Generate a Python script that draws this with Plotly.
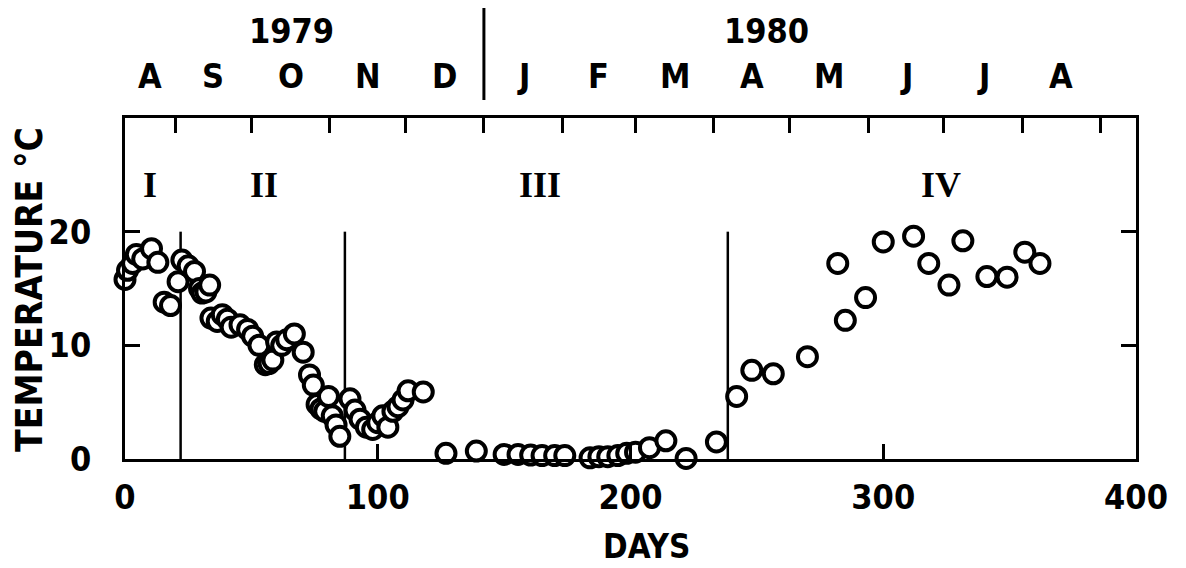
import numpy as np
import plotly.graph_objects as go

# ---------------- data ----------------
days = [0, 1, 3, 4.5, 7, 10.5, 13, 15.5, 18, 21, 22.5, 25, 27.5, 29.5, 30.5, 32, 33.5,
        34, 36.5, 38.5, 40.5, 42, 45.5, 48.5, 50.5, 53, 55.5, 57, 58.5, 60, 62, 64, 67,
        70.5, 73, 74.5, 76, 77.5, 79, 80.5, 82, 83.5, 85, 89, 91, 93, 95.5, 98, 100,
        102, 104, 106, 108, 110, 112, 118,
        127, 132.5, 139, 150, 155.5, 160.5, 165, 170, 174, 184, 187.5, 191, 195, 198.5,
        202, 207.5, 214, 222, 234,
        242, 248, 256.5, 270, 282, 285, 293, 300, 312, 318, 326, 331.5, 341, 349, 356, 362]
temps = [15.8, 16.6, 17.2, 18.0, 17.6, 18.5, 17.3, 13.8, 13.5, 15.6, 17.5, 17.0, 16.5, 15.0, 14.6, 14.7, 15.3,
         12.4, 12.1, 12.7, 12.3, 11.6, 11.8, 11.4, 10.8, 10.0, 8.3, 8.4, 8.7, 10.3, 10.0, 10.5, 11.0,
         9.4, 7.4, 6.5, 4.8, 4.4, 4.2, 5.5, 3.8, 3.0, 2.0, 5.3, 4.3, 3.5, 2.8, 2.6, 3.2,
         3.8, 2.8, 4.2, 4.6, 5.2, 6.0, 5.9,
         0.5, -0.1, 0.7, 0.4, 0.4, 0.35, 0.3, 0.3, 0.3, 0.1, 0.2, 0.2, 0.3, 0.5,
         0.6, 1.0, 1.6, 0.05, 1.5,
         5.5, 7.8, 7.5, 9.0, 17.2, 12.2, 14.2, 19.1, 19.6, 17.2, 15.3, 19.2, 16.05, 16.0, 18.2, 17.2]

phase_bounds = [22, 87, 238.5]            # vertical phase separators (days)
phase_top = 20                             # separators reach up to 20 degC
phase_labels = ["I", "II", "III", "IV"]
phase_label_days = [10, 55, 164, 323]
phase_label_temp = 24.1

month_starts = [-11, 20, 50, 81, 111, 142, 173, 202, 233, 263, 294, 324, 355, 386]
month_letters = ["A", "S", "O", "N", "D", "J", "F", "M", "A", "M", "J", "J", "A"]
years = ["1979", "1980"]
year_label_days = [66, 254]
new_year_day = 142

x_ticks = [0, 100, 200, 300, 400]
y_ticks = [0, 10, 20]

# ---------------- layout geometry ----------------
W, H = 1186, 568
L, R, T, B = 125, 50, 118, 109
plot_h = H - T - B

def py(pix):
    """pixel row -> paper y"""
    return (H - B - pix) / plot_h

FONT = "DejaVu Sans Condensed, Liberation Sans Narrow, sans-serif"
SERIF = "Liberation Serif, DejaVu Serif, serif"

fig = go.Figure()
fig.add_trace(go.Scatter(
    x=days, y=temps, mode="markers", cliponaxis=False,
    marker=dict(symbol="circle", size=19, color="white",
                line=dict(color="black", width=4)),
    showlegend=False, hoverinfo="x+y"))

# invisible trace to hold the top month axis
top_ticks = [m for m in month_starts if 0 < m < 400]
fig.add_trace(go.Scatter(x=top_ticks, y=[None] * len(top_ticks), xaxis="x2",
                         mode="markers", showlegend=False, hoverinfo="skip"))

shapes = []
for b in phase_bounds:
    shapes.append(dict(type="line", xref="x", yref="y", x0=b, x1=b, y0=0, y1=phase_top,
                       line=dict(color="black", width=2.5), layer="below"))
shapes.append(dict(type="line", xref="x", yref="paper", x0=new_year_day, x1=new_year_day,
                   y0=py(100), y1=py(8), line=dict(color="black", width=3)))

ann = []
for i, m in enumerate(month_letters):
    a, b = max(month_starts[i], 0), min(month_starts[i + 1], 400)
    ann.append(dict(x=(a + b) / 2, y=py(76), xref="x", yref="paper", text=m,
                    showarrow=False, xanchor="center", yanchor="middle",
                    font=dict(family=FONT, size=34, color="black", weight="bold")))
for yl, d in zip(years, year_label_days):
    ann.append(dict(x=d, y=py(31), xref="x", yref="paper", text=yl,
                    showarrow=False, xanchor="center", yanchor="middle",
                    font=dict(family=FONT, size=34, color="black", weight="bold")))
for t, d in zip(phase_labels, phase_label_days):
    ann.append(dict(x=d, y=phase_label_temp, xref="x", yref="y", text=t,
                    showarrow=False, xanchor="center", yanchor="middle",
                    font=dict(family=SERIF, size=36, color="black", weight="bold")))
ann.append(dict(x=(646 - L) / (W - L - R), y=py(546), xref="paper", yref="paper", text="DAYS",
                showarrow=False, xanchor="center", yanchor="middle",
                font=dict(family=FONT, size=33, color="black", weight="bold")))
ann.append(dict(x=(29 - L) / (W - L - R), y=py(290), xref="paper", yref="paper",
                text="TEMPERATURE °C", textangle=-90,
                showarrow=False, xanchor="center", yanchor="middle",
                font=dict(family=FONT, size=37, color="black", weight="bold")))

fig.update_layout(
    width=W, height=H, margin=dict(l=L, r=R, t=T, b=B),
    paper_bgcolor="white", plot_bgcolor="white",
    font=dict(family=FONT, color="black", weight="bold"),
    shapes=shapes, annotations=ann,
    xaxis=dict(range=[0, 400], tickvals=x_ticks, ticks="inside", ticklen=15, tickwidth=3,
               tickcolor="black", showline=True, linewidth=3, linecolor="black", mirror=True,
               showgrid=False, zeroline=False, ticklabelstandoff=6,
               tickfont=dict(family=FONT, size=34, color="black", weight="bold")),
    xaxis2=dict(range=[0, 400], overlaying="x", side="top", anchor="y",
                tickvals=top_ticks, ticks="inside", ticklen=15, tickwidth=3, tickcolor="black",
                showticklabels=False, showline=False, showgrid=False, zeroline=False),
    yaxis=dict(range=[0, 30], tickvals=y_ticks, ticks="inside", ticklen=15, tickwidth=3,
               tickcolor="black", showline=True, linewidth=3, linecolor="black", mirror="ticks",
               showgrid=False, zeroline=False, ticklabelstandoff=24,
               tickfont=dict(family=FONT, size=34, color="black", weight="bold")),
)

fig.write_html("out.html")
